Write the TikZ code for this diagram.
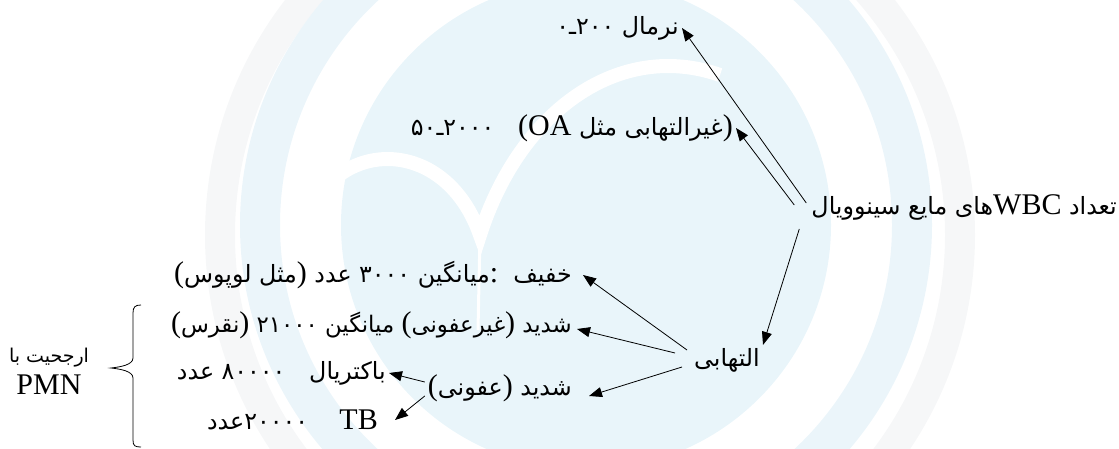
\documentclass[tikz,border=0pt]{standalone}
\usepackage{fontspec}
\setmainfont{Liberation Serif}
\newfontfamily\fafont[Script=Arabic,Scale=0.95]{DejaVu Sans}
\usepackage{xcolor}
\usepackage{tikz}
\usetikzlibrary{arrows.meta,positioning}

\definecolor{wmblue}{RGB}{233,245,250}
\definecolor{wmring}{RGB}{235,245,250}
\definecolor{wmgrey}{RGB}{246,247,248}

\newcommand{\hb}[1]{\hbox{#1}}
\newcommand{\lt}[1]{{\fontsize{30}{34}\selectfont\rmfamily #1}}
\newcommand{\lp}{\lt{(}}
\newcommand{\rp}{\lt{)}}

\tikzset{
	lbl/.style={inner sep=3pt, font=\fontsize{25}{30}\selectfont\fafont},
	arr/.style={line width=0.8pt, -{Triangle[length=13pt,width=10pt]}},
}

\begin{document}
\begin{tikzpicture}[x=1pt,y=-1pt]
		\useasboundingbox (0,0) rectangle (1119,449);
		
		% faint logo behind the text
		\begin{scope}
		\clip (0,0) rectangle (1119,449);
		\draw[wmgrey, line width=30pt] (590,235) circle [radius=370pt];
		\draw[wmring, line width=40pt] (586,225) circle [radius=326pt];
		\fill[wmblue] (586,225) circle [radius=245pt];
		\draw[white, line width=14pt] (300,265) .. controls (300,140) and (440,120) .. (480,235) .. controls (520,110) and (620,40) .. (720,75);
		\draw[white, line width=3pt] (480,235) -- (478,330);
		\end{scope}
		
		\node[lbl, anchor=east] (wbc) at (1120,207) {سینوویال مایع های\lt{WBC} تعداد};
		\node[lbl, anchor=east] (normal) at (682,28) {\hb{۰}\hb{ـ}\hb{۲۰۰} نرمال};
		\node[lbl, anchor=east] (oa) at (736,128) {\hb{۵۰}\hb{ـ}\hb{۲۰۰۰}\quad\lp\lt{OA} مثل غیرالتهابی\rp};
		\node[lbl] (infl) at (727,360) {التهابی};
		
		\node[lbl, anchor=east] (mild) at (575,275) {\lp لوپوس مثل\rp{} عدد \hb{۳۰۰۰} میانگین\lt{:}\ \ خفیف};
		\node[lbl, anchor=east, font=\fontsize{24}{30}\selectfont\fafont] (gout) at (575,325) {\lp نقرس\rp{} \hb{۲۱۰۰۰} میانگین \lp غیرعفونی\rp{} شدید};
		\node[lbl, anchor=east] (septic) at (575,388) {\lp عفونی\rp{} شدید};
		\node[lbl, anchor=east] (bact) at (389,373) {عدد \hb{۸۰۰۰۰}\quad باکتریال};
		\node[lbl, anchor=east] (tb) at (381,420) {عدد\hb{۲۰۰۰۰}\quad\ \lt{TB}};
		\node[lbl, align=center, font=\fontsize{20}{26}\selectfont\fafont] (pmn) at (49,371) {با ارجحیت\\[6pt]\lt{PMN}};
		
		% from the count
		\draw[arr] ([xshift=-2pt,yshift=4pt]wbc.west) -- (normal.east);
		\draw[arr] ([xshift=-14pt,yshift=2pt]wbc.west) -- (oa.east);
		\draw[arr] ([xshift=-9pt,yshift=-22pt]wbc.west) -- (infl.north east);
		
		% inflammatory
		\draw[arr] ([xshift=-4pt,yshift=10pt]infl.west) -- ([xshift=8pt]mild.east);
		\draw[arr] ([xshift=-16pt,yshift=7pt]infl.west) -- ([xshift=2pt,yshift=-4pt]gout.east);
		\draw[arr] ([xshift=-9pt,yshift=-7pt]infl.west) -- ([xshift=14pt,yshift=-8pt]septic.east);
		\draw[arr] ([yshift=6pt]septic.west) -- (bact.east);
		\draw[arr] ([yshift=-8pt]septic.west) -- ([xshift=14pt]tb.east);
		
		% bracket round the PMN rows
		\draw[line width=0.8pt] (141,305) .. controls (135,305) and (133,307) .. (133,313) -- (133,358) .. controls (133,365) and (120,367) .. (111,368) .. controls (120,369) and (133,371) .. (133,378) -- (133,440) .. controls (133,446) and (135,447) .. (141,447);
		
\end{tikzpicture}
\end{document}
